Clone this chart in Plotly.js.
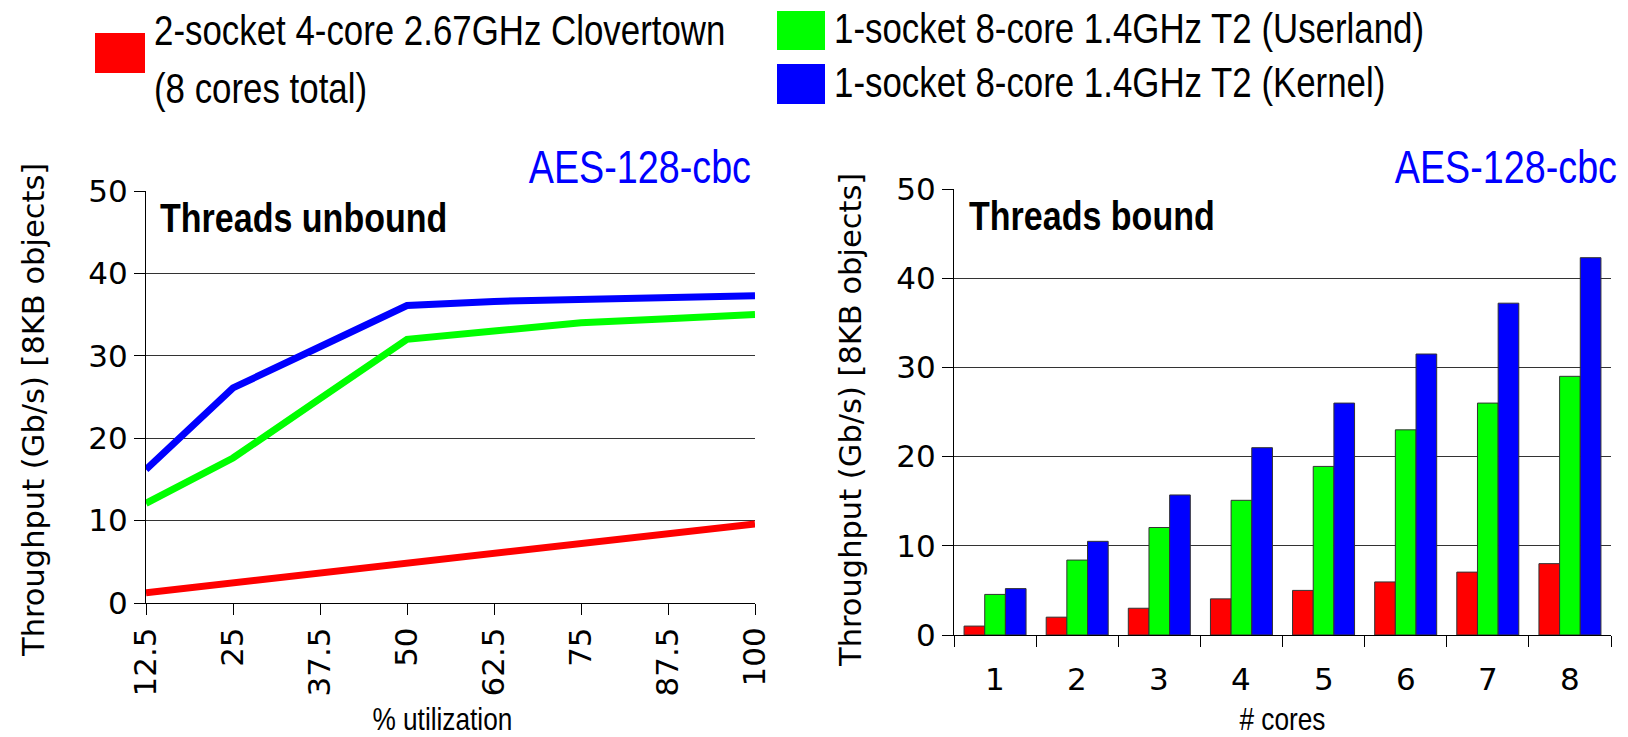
<!DOCTYPE html>
<html>
<head>
<meta charset="utf-8">
<script src="https://cdn.plot.ly/plotly-3.0.1.min.js"></script>
<style>
  html, body { margin: 0; padding: 0; background: #fff; }
  #chart { width: 1628px; height: 737px; }
</style>
</head>
<body>
<div id="chart"></div>
<script>
// ---------- data ----------
const seriesNames = [
  "2-socket 4-core 2.67GHz Clovertown",
  "1-socket 8-core 1.4GHz T2 (Userland)",
  "1-socket 8-core 1.4GHz T2 (Kernel)"
];
const seriesColors = ["#ff0000", "#00ff00", "#0000ff"];

// Left panel: Threads unbound
const utilization = [12.5, 25, 37.5, 50, 62.5, 75, 87.5, 100];
const utilizationLabels = ["12.5", "25", "37.5", "50", "62.5", "75", "87.5", "100"];
const unboundClovertown = [1.25, 2.45, 3.7, 4.95, 6.0, 7.2, 8.4, 9.6];
const unboundUserland   = [12.1, 17.6, 24.8, 32.0, 33.0, 34.0, 34.5, 35.0];
const unboundKernel     = [16.2, 26.1, 31.1, 36.1, 36.6, 36.9, 37.05, 37.3];

// Right panel: Threads bound
const cores = ["1", "2", "3", "4", "5", "6", "7", "8"];
const boundClovertown = [1.0, 2.0, 3.0, 4.05, 5.0, 5.95, 7.05, 8.0];
const boundUserland   = [4.55, 8.4, 12.05, 15.1, 18.9, 23.0, 26.0, 29.0];
const boundKernel     = [5.2, 10.5, 15.7, 21.0, 26.0, 31.5, 37.2, 42.3];

const yTicks = [0, 10, 20, 30, 40, 50];

// ---------- geometry helpers ----------
const W = 1628, H = 737;
const fx = px => px / W;
const fy = py => 1 - py / H;

const SANS = "Liberation Sans, Arial, sans-serif";
const DEJAVU = "DejaVu Sans, sans-serif";
const NARROW_FACTOR = 0.82;   // Arial Narrow width relative to Arial

// ---------- traces ----------
const unboundData = [unboundClovertown, unboundUserland, unboundKernel];
const boundData = [boundClovertown, boundUserland, boundKernel];

const traces = [];
unboundData.forEach((vals, i) => {
  traces.push({
    type: "scatter", mode: "lines",
    x: utilization, y: vals,
    name: seriesNames[i],
    line: { color: seriesColors[i], width: 7 },
    xaxis: "x", yaxis: "y",
    showlegend: false
  });
});
boundData.forEach((vals, i) => {
  traces.push({
    type: "bar",
    x: cores, y: vals,
    name: seriesNames[i],
    marker: { color: seriesColors[i], line: { color: "#333", width: 1 } },
    xaxis: "x2", yaxis: "y2",
    showlegend: false
  });
});

// ---------- annotations ----------
const condenseList = [];   // [annotation index, anchor]
const annotations = [];
function narrowText(text, xpx, baseline, size, opts) {
  opts = opts || {};
  const anchor = opts.xanchor || "left";
  condenseList.push([annotations.length, anchor]);
  annotations.push({
    text: text, xref: "paper", yref: "paper",
    x: fx(xpx), y: fy(baseline - 0.35 * size),
    xanchor: anchor, yanchor: "middle",
    showarrow: false,
    font: { family: SANS, size: size, color: opts.color || "#000", weight: opts.weight || "normal" }
  });
}

narrowText(seriesNames[0], 152, 45, 42.5);
narrowText("(8 cores total)", 152, 103, 42.5);
narrowText(seriesNames[1], 832, 43, 42.5);
narrowText(seriesNames[2], 832, 97, 42.5);
narrowText("AES-128-cbc", 753, 183, 46, { xanchor: "right", color: "#0000ff" });
narrowText("AES-128-cbc", 1619, 183, 46, { xanchor: "right", color: "#0000ff" });
narrowText("Threads unbound", 158, 232, 41.5, { weight: "bold" });
narrowText("Threads bound", 967, 230, 41.5, { weight: "bold" });
narrowText("% utilization", 442, 730, 32, { xanchor: "center" });
narrowText("# cores", 1282, 730, 32, { xanchor: "center" });

annotations.push({
  text: "Throughput (Gb/s) [8KB objects]", xref: "paper", yref: "paper",
  x: fx(33), y: fy(410), xanchor: "center", yanchor: "middle",
  textangle: -90, showarrow: false,
  font: { family: DEJAVU, size: 30.5, color: "#000" }
});
annotations.push({
  text: "Throughput (Gb/s) [8KB objects]", xref: "paper", yref: "paper",
  x: fx(851), y: fy(420), xanchor: "center", yanchor: "middle",
  textangle: -90, showarrow: false,
  font: { family: DEJAVU, size: 30.5, color: "#000" }
});

// category labels of the right panel, placed on the x2 category scale
// (x given as the category's serial index on that axis)
cores.forEach((c, i) => {
  annotations.push({
    text: c, xref: "x2", yref: "paper",
    x: i, y: fy(679), xanchor: "center", yanchor: "middle",
    showarrow: false,
    font: { family: DEJAVU, size: 31, color: "#000" }
  });
});

// legend squares
const shapes = [
  { x0: 95, x1: 145, y0: 33, y1: 73, c: seriesColors[0] },
  { x0: 777, x1: 825, y0: 11, y1: 50, c: seriesColors[1] },
  { x0: 777, x1: 825, y0: 64, y1: 104, c: seriesColors[2] }
].map(s => ({
  type: "rect", xref: "paper", yref: "paper",
  x0: fx(s.x0), x1: fx(s.x1), y0: fy(s.y1), y1: fy(s.y0),
  fillcolor: s.c, line: { width: 0 }
}));

// ---------- axes ----------
const tickFont = { family: DEJAVU, size: 31, color: "#000" };
const yCommon = {
  range: [0, 50], tickvals: yTicks, ticktext: yTicks.map(String),
  ticks: "outside", ticklen: 11, tickcolor: "#000", tickwidth: 1,
  showgrid: true, gridcolor: "#333", gridwidth: 1,
  zeroline: false, showline: true, linecolor: "#000", linewidth: 1,
  tickfont: tickFont, automargin: false, fixedrange: true
};

const layout = {
  width: W, height: H,
  margin: { l: 0, r: 0, t: 0, b: 0, pad: 0 },
  paper_bgcolor: "#fff", plot_bgcolor: "#fff",
  showlegend: false,
  barmode: "group", bargap: 0.245, bargroupgap: 0,
  xaxis: {
    domain: [fx(146), fx(755)],
    type: "linear", range: [12.5, 100],
    tickvals: utilization, ticktext: utilizationLabels, tickangle: -90,
    ticks: "outside", ticklen: 11, tickcolor: "#000", tickwidth: 1,
    showgrid: false, zeroline: false,
    showline: true, linecolor: "#000", linewidth: 1,
    tickfont: tickFont, automargin: false, anchor: "y", fixedrange: true
  },
  yaxis: Object.assign({}, yCommon, {
    domain: [fy(603), fy(191)], anchor: "x"
  }),
  xaxis2: {
    domain: [fx(954), fx(1611)],
    type: "category", categoryarray: cores, categoryorder: "array",
    range: [-0.5, 7.5],
    tickson: "boundaries",
    ticks: "outside", ticklen: 11, tickcolor: "#000", tickwidth: 1,
    showticklabels: false,
    showgrid: false, zeroline: false,
    showline: true, linecolor: "#000", linewidth: 1,
    tickfont: tickFont, automargin: false, anchor: "y2", fixedrange: true
  },
  yaxis2: Object.assign({}, yCommon, {
    domain: [fy(635), fy(189)], anchor: "x2"
  }),
  annotations: annotations,
  shapes: shapes
};

// Narrow (condensed) rendering of the Arial-Narrow style texts:
// squeeze the real SVG text horizontally around its anchor point.
function condenseTexts(gd) {
  const groups = gd.querySelectorAll("g.annotation");
  condenseList.forEach(([idx, anchor]) => {
    const g = Array.from(groups).find(el => el.getAttribute("data-index") === String(idx));
    if (!g) return;
    const t = g.querySelector("text.annotation-text");
    if (!t) return;
    const bb = t.getBBox();
    let ax = bb.x;
    if (anchor === "right") ax = bb.x + bb.width;
    else if (anchor === "center") ax = bb.x + bb.width / 2;
    const prev = t.getAttribute("transform") || "";
    t.setAttribute("transform",
      (prev + " translate(" + ax + " 0) scale(" + NARROW_FACTOR + " 1) translate(" + (-ax) + " 0)").trim());
  });
}

const gd = document.getElementById("chart");
Plotly.newPlot(gd, traces, layout, { displayModeBar: false, staticPlot: true })
  .then(() => condenseTexts(gd));
</script>
</body>
</html>
